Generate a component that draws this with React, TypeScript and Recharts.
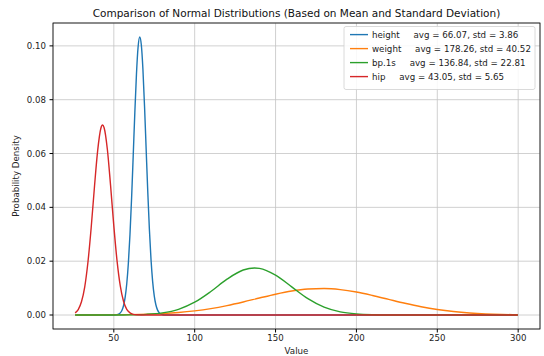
import React from 'react';
import { LineChart, Line, XAxis, YAxis, CartesianGrid } from 'recharts';

const heightX = [26.1, 50, 52, 53, 54, 55, 56, 57, 58, 59, 60, 61, 62, 63, 64, 65, 66, 67, 68, 69, 70, 71, 72, 73, 74, 75, 76, 77, 78, 80, 82, 299.8];
const heightY = [0, 0, 0.00013, 0.00034, 0.00078, 0.00169, 0.00344, 0.00654, 0.01162, 0.0193, 0.03, 0.0436, 0.0593, 0.0753, 0.0895, 0.0995, 0.1033, 0.1004, 0.0912, 0.0775, 0.0615, 0.0457, 0.0318, 0.0206, 0.0125, 0.0071, 0.0038, 0.0019, 0.0009, 0.0002, 0, 0];

const weightX = [26.1, 40, 60, 80, 90, 100, 110, 120, 130, 140, 150, 160, 170, 180, 190, 200, 210, 220, 230, 240, 250, 260, 270, 280, 290, 299.8];
const weightY = [0.0000085, 0.00003, 0.00014, 0.00052, 0.00092, 0.00153, 0.00238, 0.0035, 0.00484, 0.0063, 0.00772, 0.0089, 0.00964, 0.00984, 0.00944, 0.00853, 0.00724, 0.00579, 0.00436, 0.00308, 0.00205, 0.00129, 0.00076, 0.00042, 0.00022, 0.00011];

const bpX = [26.1, 50, 60, 70, 80, 90, 100, 110, 120, 130, 137, 140, 150, 160, 170, 180, 190, 200, 210, 220, 240, 299.8];
const bpY = [0, 0.00001, 0.00006, 0.00024, 0.00078, 0.00212, 0.00475, 0.00875, 0.01332, 0.01672, 0.01749, 0.01732, 0.01481, 0.01045, 0.00608, 0.00292, 0.00116, 0.00038, 0.0001, 0.00002, 0, 0];

const hipX = [26.1, 28, 30, 32, 34, 36, 38, 40, 42, 43, 44, 46, 48, 50, 52, 54, 56, 58, 60, 62, 64, 70, 299.8];
const hipY = [0.00078, 0.00203, 0.0049, 0.0104, 0.0196, 0.0324, 0.0474, 0.061, 0.0694, 0.0706, 0.0696, 0.0616, 0.0481, 0.0331, 0.0201, 0.0108, 0.0051, 0.0021, 0.0008, 0.00025, 0.00007, 0, 0];

const seriesNames = ['height', 'weight', 'bp.1s', 'hip'];
const seriesAvg = ['66.07', '178.26', '136.84', '43.05'];
const seriesStd = ['3.86', '40.52', '22.81', '5.65'];
const colors = ['#1f77b4', '#ff7f0e', '#2ca02c', '#d62728'];

const xTicks = [50, 100, 150, 200, 250, 300];
const yTicks = [0, 0.02, 0.04, 0.06, 0.08, 0.1];

const toPoints = (xs: number[], ys: number[]) => xs.map((x, i) => ({ x, y: ys[i] }));
const series = [
  toPoints(heightX, heightY),
  toPoints(weightX, weightY),
  toPoints(bpX, bpY),
  toPoints(hipX, hipY),
];

const font = '"DejaVu Sans", sans-serif';
const tickStyle = { fill: '#222', fontSize: 8.6, fontFamily: font };

export default function App() {
  return (
    <div style={{ position: 'absolute', left: 0, top: 0, width: 544, height: 356, background: '#fff' }}>
      <LineChart width={544} height={356} margin={{ top: 23, right: 4, bottom: 0, left: 0 }}>
        <CartesianGrid stroke="#c4c4c4" strokeWidth={0.8} />
        <XAxis
          type="number"
          dataKey="x"
          domain={[12.4, 313.5]}
          allowDataOverflow
          ticks={xTicks}
          height={27}
          axisLine={false}
          tickSize={3.5}
          tickMargin={2.5}
          stroke="#000"
          tick={tickStyle}
        />
        <YAxis
          type="number"
          domain={[-0.0052, 0.1085]}
          allowDataOverflow
          ticks={yTicks}
          width={53}
          axisLine={false}
          tickSize={3.5}
          tickMargin={3.5}
          stroke="#000"
          tick={tickStyle}
          tickFormatter={(v: number) => v.toFixed(2)}
        />
        {series.map((d, i) => (
          <Line
            key={seriesNames[i]}
            data={d}
            dataKey="y"
            type="monotone"
            stroke={colors[i]}
            strokeWidth={1.4}
            dot={false}
            isAnimationActive={false}
          />
        ))}
      </LineChart>
      <svg width={544} height={356} style={{ position: 'absolute', left: 0, top: 0, pointerEvents: 'none', fontFamily: font }}>
        <rect x={53} y={23} width={487} height={306} fill="none" stroke="#000" strokeWidth={0.8} />
        <text x={296.5} y={17} textAnchor="middle" fontSize={10.5} fill="#111">
          Comparison of Normal Distributions (Based on Mean and Standard Deviation)
        </text>
        <text x={296.5} y={354} textAnchor="middle" fontSize={8.7} fill="#222">Value</text>
        <text transform="translate(18.5,176) rotate(-90)" textAnchor="middle" fontSize={8.7} fill="#222">
          Probability Density
        </text>
        <rect x={344} y={26.5} width={191} height={63} rx={2} fill="#fff" fillOpacity={0.85} stroke="#d0d0d0" strokeWidth={0.8} />
        {seriesNames.map((name, i) => {
          const cy = 34.6 + i * 14;
          return (
            <g key={name}>
              <line x1={350} x2={368} y1={cy} y2={cy} stroke={colors[i]} strokeWidth={1.4} />
              <text x={372} y={cy + 3} fontSize={8.7} fill="#222" xmlSpace="preserve" style={{ whiteSpace: 'pre' }}>
                {`${name}     avg = ${seriesAvg[i]}, std = ${seriesStd[i]}`}
              </text>
            </g>
          );
        })}
      </svg>
    </div>
  );
}
